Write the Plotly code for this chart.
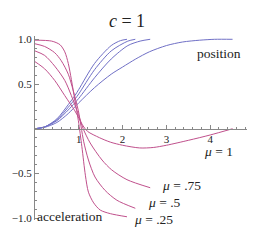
import plotly.graph_objects as go

# ---- data ----
mu_labels = ["μ = .25", "μ = .5", "μ = .75", "μ = 1"]

pos_t = [
    [0, 0.22, 0.5, 0.76, 0.91, 1.0, 1.36, 1.74, 1.95, 2.1],
    [0, 0.22, 0.5, 0.76, 0.91, 1.0, 1.36, 1.74, 2.12, 2.29],
    [0, 0.22, 0.5, 0.76, 0.91, 1.0, 1.36, 1.74, 2.12, 2.4, 2.63],
    [0, 0.22, 0.5, 0.76, 1.0, 1.36, 1.74, 2.0, 2.3, 2.61, 3.0, 3.37, 3.76, 4.1, 4.51],
]
pos_v = [
    [0, 0.02, 0.11, 0.27, 0.37, 0.44, 0.73, 0.93, 0.985, 1.0],
    [0, 0.02, 0.1, 0.24, 0.33, 0.39, 0.66, 0.87, 0.98, 1.0],
    [0, 0.02, 0.09, 0.21, 0.29, 0.34, 0.57, 0.78, 0.93, 0.98, 1.0],
    [0, 0.015, 0.07, 0.17, 0.29, 0.46, 0.61, 0.69, 0.78, 0.86, 0.93, 0.97, 0.99, 1.0, 1.0],
]

acc_t = [
    [0, 0.38, 0.57, 0.68, 0.76, 0.83, 0.91, 0.99, 1.07, 1.15, 1.22, 1.34, 1.49, 1.72, 2.1],
    [0, 0.22, 0.45, 0.6, 0.76, 0.87, 0.99, 1.11, 1.22, 1.37, 1.6, 1.87, 2.29],
    [0, 0.22, 0.45, 0.68, 0.83, 0.99, 1.1, 1.26, 1.53, 1.75, 2.1, 2.63],
    [0, 0.22, 0.45, 0.68, 0.91, 1.0, 1.1, 1.2, 1.47, 1.72, 2.0, 2.39, 2.7, 3.0, 3.5, 4.0, 4.51],
]
acc_v = [
    [0.99, 0.98, 0.94, 0.86, 0.73, 0.55, 0.32, 0.09, -0.2, -0.52, -0.71, -0.83, -0.91, -0.95, -0.985],
    [0.95, 0.92, 0.85, 0.76, 0.61, 0.43, 0.2, -0.14, -0.35, -0.54, -0.69, -0.8, -0.89],
    [0.87, 0.82, 0.7, 0.54, 0.37, 0.16, 0.0, -0.16, -0.35, -0.46, -0.57, -0.66],
    [0.75, 0.67, 0.54, 0.37, 0.2, 0.12, 0.03, -0.03, -0.1, -0.15, -0.185, -0.215, -0.21, -0.185, -0.13, -0.07, 0.0],
]

x_ticks = [1, 2, 3, 4]
y_ticks = [-1.0, -0.5, 0.5, 1.0]
y_tick_text = ["−1.0", "−0.5", "0.5", "1.0"]

BLUE = "#7070c6"
RED = "#c0508c"
SERIF = "Liberation Serif, DejaVu Serif, serif"

fig = go.Figure()
for t, v in zip(pos_t, pos_v):
    fig.add_trace(go.Scatter(x=t, y=v, mode="lines", line=dict(color=BLUE, width=1, shape="spline", smoothing=0.8),
                             hoverinfo="skip", showlegend=False))
for t, v in zip(acc_t, acc_v):
    fig.add_trace(go.Scatter(x=t, y=v, mode="lines", line=dict(color=RED, width=1, shape="spline", smoothing=0.8),
                             hoverinfo="skip", showlegend=False))

ymin, ymax = -1.021, 1.037
fig.update_layout(
    width=263, height=242,
    margin=dict(l=35, r=16, t=36, b=22),
    paper_bgcolor="white", plot_bgcolor="white",
    font=dict(family=SERIF, color="#222", size=11),
    title=dict(text="<i>c</i> = 1", x=127 / 263, xref="container", xanchor="center",
               y=1 - 21 / 242, yref="container", yanchor="middle",
               font=dict(family=SERIF, size=18, color="#222")),
    xaxis=dict(range=[0, 4.84], showgrid=False, zeroline=False, showline=True, linecolor="#888", linewidth=1,
               anchor="free", position=(0 - ymin) / (ymax - ymin),
               tickmode="array", tickvals=x_ticks, ticktext=[str(v) for v in x_ticks],
               ticks="inside", ticklen=4, tickcolor="#888", tickfont=dict(size=11, family=SERIF),
               minor=dict(dtick=0.2, tick0=0, ticks="inside", ticklen=2, tickcolor="#888", showgrid=False)),
    yaxis=dict(range=[ymin, ymax], showgrid=False, zeroline=False, showline=True, linecolor="#888", linewidth=1,
               tickmode="array", tickvals=y_ticks, ticktext=y_tick_text,
               ticks="inside", ticklen=4, tickcolor="#888", tickfont=dict(size=11, family=SERIF),
               minor=dict(dtick=0.1, tick0=0, ticks="inside", ticklen=2, tickcolor="#888", showgrid=False)),
)

label_font = dict(family=SERIF, size=13.5, color="#222")
fig.add_annotation(x=4.19, y=0.836, text="position", showarrow=False, font=label_font, borderpad=0)
fig.add_annotation(x=0.03, y=-0.985, text="acceleration", showarrow=False, xanchor="left", font=label_font, borderpad=0)
mu_pos = [(2.71, -1.01), (2.96, -0.83), (3.34, -0.64), (4.2, -0.255)]
for (lx, ly), lab in zip(mu_pos, mu_labels):
    name, val = lab.split(" = ")
    fig.add_annotation(x=lx, y=ly, text=f"<i>{name}</i> = {val}", showarrow=False, font=label_font, borderpad=0)

fig.write_html("out.html", config={"displayModeBar": False, "staticPlot": True},
               post_script="document.body.style.margin='0';document.body.style.padding='0';")
